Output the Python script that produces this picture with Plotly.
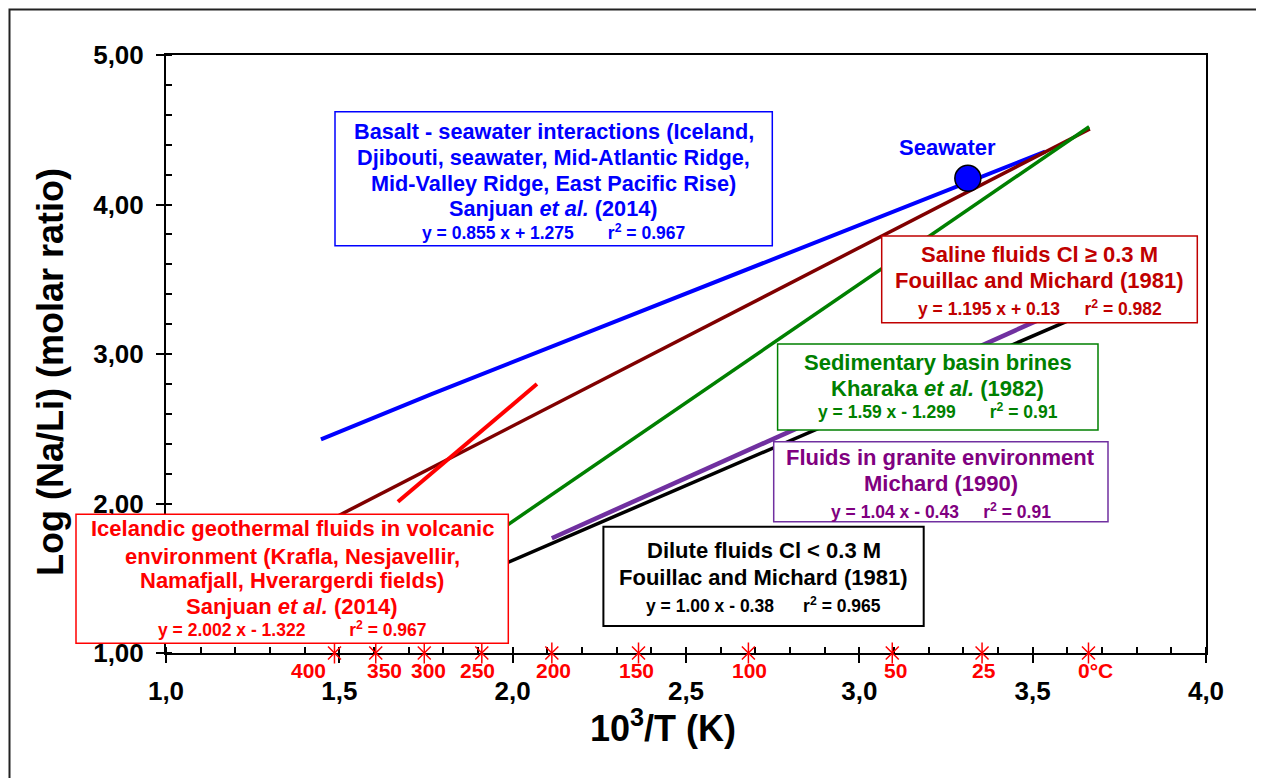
import plotly.graph_objects as go

# ---------------- data ----------------
basalt_x = [1.447, 1.766, 3.536]
basalt_y = [2.429, 2.732, 4.353]
saline_x = [1.49, 3.665]
saline_y = [1.91, 4.505]
sedim_x = [1.80, 3.663]
sedim_y = [1.563, 4.52]
dilute_x = [1.49, 3.66]
dilute_y = [1.11, 3.28]
granite_x = [2.113, 3.55]
granite_y = [1.768, 3.262]
iceland_x = [1.669, 2.070]
iceland_y = [2.012, 2.799]
seawater_x = [3.313]
seawater_y = [4.175]

temp_x = [1.486, 1.605, 1.745, 1.911, 2.113, 2.363, 2.680, 3.095, 3.354, 3.661]
temp_labels = ["400", "350", "300", "250", "200", "150", "100", "50", "25", "0°C"]
temp_axis_y = [1.0] * len(temp_x)

x_ticks = [1.0, 1.5, 2.0, 2.5, 3.0, 3.5, 4.0]
y_ticks = [1.0, 2.0, 3.0, 4.0, 5.0]

FONT = "Liberation Sans"
OFF = 8                      # page body margin
W_PX, H_PX = 1256, 770       # figure size (page 1264x778 minus body margin)
L, R, T, B = 166, 1206, 55, 653   # plot area in page pixels
PW, PH = R - L, B - T


def px(xp):
    return (xp - L) / PW


def py(yp):
    return (B - yp) / PH


fig = go.Figure()

line_specs = [
    (basalt_x, basalt_y, "#0000FF", 4),
    (saline_x, saline_y, "#800000", 3.5),
    (sedim_x, sedim_y, "#008000", 3.5),
    (dilute_x, dilute_y, "#000000", 3.5),
    (granite_x, granite_y, "#7030A0", 4.5),
    (iceland_x, iceland_y, "#FF0000", 4),
]
for xs, ys, col, w in line_specs:
    fig.add_trace(go.Scatter(x=xs, y=ys, mode="lines",
                             line=dict(color=col, width=w), showlegend=False,
                             hoverinfo="skip"))

fig.add_trace(go.Scatter(x=seawater_x, y=seawater_y, mode="markers",
                         marker=dict(size=26, color="#0000FF",
                                     line=dict(color="black", width=1.5)),
                         showlegend=False, hoverinfo="skip"))

for sym in ["x-thin-open", "line-ns-open"]:
    fig.add_trace(go.Scatter(x=temp_x, y=temp_axis_y, mode="markers",
                             marker=dict(symbol=sym, size=13 if sym == "x-thin-open" else 15,
                                         color="#FF0000",
                                         line=dict(color="#FF0000", width=1.5)),
                             cliponaxis=False, showlegend=False, hoverinfo="skip"))

annotations = []
label_shift = [-26, 9, 4, -4, 2, -2, 1, 3, 2, 7]
for xv, lab, sh in zip(temp_x, temp_labels, label_shift):
    annotations.append(dict(x=xv, y=1.0, xref="x", yref="y", text=lab,
                            showarrow=False, xanchor="center", yanchor="middle",
                            xshift=sh, yshift=-17,
                            font=dict(family=FONT, size=21, color="#FF0000", weight="bold")))

sp = "\u00a0"
boxes = [
    dict(box=(335, 111.7, 772.3, 245.7), col="#0000FF", bcol="#0000FF", bw=1.5,
         lines=[("Basalt - seawater interactions (Iceland,", 131.7, 21.7),
                ("Djibouti, seawater, Mid-Atlantic Ridge,", 157, 21.7),
                ("Mid-Valley Ridge, East Pacific Rise)", 183.7, 21.7),
                ("Sanjuan <i>et al.</i> (2014)", 208, 21.7),
                ("y = 0.855 x + 1.275" + sp * 7 + "r<sup>2</sup> = 0.967", 231.7, 17.5)]),
    dict(box=(881.7, 236, 1197.3, 322.7), col="#C00000", bcol="#C00000", bw=1.5,
         lines=[("Saline fluids Cl ≥ 0.3 M", 254, 22),
                ("Fouillac and Michard (1981)", 280, 22),
                ("y = 1.195 x + 0.13" + sp * 5 + "r<sup>2</sup> = 0.982", 308, 17.5)]),
    dict(box=(777.6, 344, 1098, 430), col="#008000", bcol="#008000", bw=1.5,
         lines=[("Sedimentary basin brines", 362.7, 22),
                ("Kharaka <i>et al.</i> (1982)", 388.3, 22),
                ("y = 1.59 x - 1.299" + sp * 7 + "r<sup>2</sup> = 0.91", 410.7, 17.5)]),
    dict(box=(773.7, 441.7, 1108, 521.7), col="#800080", bcol="#7030A0", bw=1.5,
         lines=[("Fluids in granite environment", 457.3, 22),
                ("Michard (1990)", 483.3, 22),
                ("y = 1.04 x - 0.43" + sp * 5 + "r<sup>2</sup> = 0.91", 510.7, 17.5)]),
    dict(box=(603.4, 526.7, 923.7, 626), col="#000000", bcol="#000000", bw=2,
         lines=[("Dilute fluids Cl < 0.3 M", 550.7, 22),
                ("Fouillac and Michard (1981)", 577.3, 22),
                ("y = 1.00 x - 0.38" + sp * 6 + "r<sup>2</sup> = 0.965", 605, 17.5)]),
    dict(box=(76, 514.3, 508.3, 643.3), col="#FF0000", bcol="#FF0000", bw=1.5,
         lines=[("Icelandic geothermal fluids in volcanic", 528.3, 22),
                ("environment (Krafla, Nesjavellir,", 556, 22),
                ("Namafjall, Hverargerdi fields)", 580, 22),
                ("Sanjuan <i>et al.</i> (2014)", 606.7, 22),
                ("y = 2.002 x - 1.322" + sp * 9 + "r<sup>2</sup> = 0.967", 629.3, 17.5)]),
]

shapes = []
for b in boxes:
    x0, y0, x1, y1 = b["box"]
    shapes.append(dict(type="rect", xref="paper", yref="paper",
                       x0=px(x0), x1=px(x1), y0=py(y1), y1=py(y0),
                       fillcolor="white", line=dict(color=b["bcol"], width=b["bw"]),
                       layer="above"))
    cx = (x0 + x1) / 2
    for txt, yc, fs in b["lines"]:
        annotations.append(dict(x=px(cx), y=py(yc), xref="paper", yref="paper",
                                text=txt, showarrow=False, xanchor="center",
                                yanchor="middle",
                                font=dict(family=FONT, size=fs, color=b["col"],
                                          weight="bold")))

# outer frame (page body margin keeps it at ~9 px from the window edge)
shapes.append(dict(type="rect", xref="paper", yref="paper",
                   x0=px(9.5), x1=px(1257), y0=py(800), y1=py(9.5),
                   line=dict(color="#222222", width=2), fillcolor="rgba(0,0,0,0)",
                   layer="below"))

annotations.append(dict(x=px(947.3), y=py(147.7), xref="paper", yref="paper",
                        text="Seawater", showarrow=False,
                        xanchor="center", yanchor="middle",
                        font=dict(family=FONT, size=22, color="#0000FF", weight="bold")))
annotations.append(dict(x=px(663), y=py(726), xref="paper", yref="paper",
                        text="10<sup>3</sup>/T (K)", showarrow=False,
                        xanchor="center", yanchor="middle",
                        font=dict(family=FONT, size=36, color="black", weight="bold")))
annotations.append(dict(x=px(50), y=py(372), xref="paper", yref="paper",
                        text="Log (Na/Li) (molar ratio)", showarrow=False,
                        textangle=-90, xanchor="center", yanchor="middle",
                        font=dict(family=FONT, size=36, color="black", weight="bold")))

axis_common = dict(showgrid=False, zeroline=False, showline=True, linecolor="black",
                   linewidth=2, mirror=True, ticks="outside", ticklen=8, tickwidth=2,
                   tickcolor="black", layer="below traces",
                   tickfont=dict(family=FONT, size=26, color="black", weight="bold"))

fig.update_layout(
    width=W_PX, height=H_PX, autosize=False,
    margin=dict(l=L - OFF, r=W_PX - (R - OFF), t=T - OFF, b=H_PX - (B - OFF), pad=0),
    paper_bgcolor="white", plot_bgcolor="white",
    separators=", ",
    xaxis=dict(range=[1, 4], tickvals=x_ticks, tickformat=".1f",
               minor=dict(dtick=0.1, ticks="inside", ticklen=6, tickwidth=1.5,
                          tickcolor="black", showgrid=False),
               ticklabelstandoff=6, **axis_common),
    yaxis=dict(range=[1, 5], tickvals=y_ticks, tickformat=".2f",
               minor=dict(dtick=0.2, ticks="inside", ticklen=6, tickwidth=1.5,
                          tickcolor="black", showgrid=False),
               ticklabelstandoff=7, **axis_common),
    shapes=shapes,
    annotations=annotations,
    showlegend=False,
)

fig.write_html("out.html")
